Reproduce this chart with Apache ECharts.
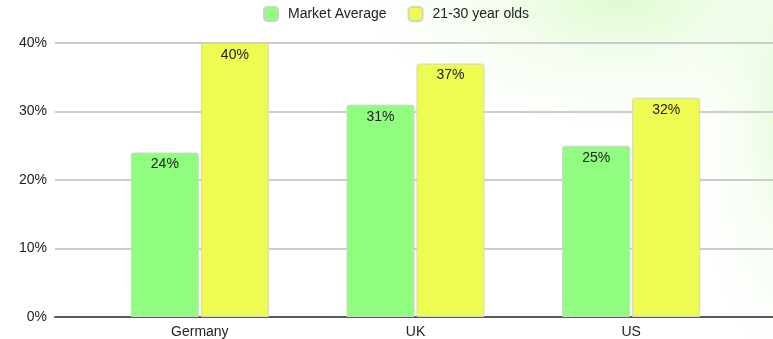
<!DOCTYPE html>
<html>
<head>
<meta charset="utf-8">
<script src="https://cdn.jsdelivr.net/npm/echarts@6/dist/echarts.min.js"></script>
<style>
  html, body { margin: 0; padding: 0; }
  body {
    width: 773px; height: 339px; overflow: hidden;
    background:
      radial-gradient(ellipse 260px 130px at 620px 0px, rgba(214, 250, 196, 0.8) 0%, rgba(230, 252, 218, 0.45) 45%, rgba(255, 255, 255, 0) 100%),
      radial-gradient(ellipse 100px 270px at 790px 110px, rgba(218, 250, 204, 0.75) 0%, rgba(236, 253, 228, 0.4) 50%, rgba(255, 255, 255, 0) 100%),
      #ffffff;
  }
  #chart { width: 773px; height: 339px; }
</style>
</head>
<body>
<div id="chart"></div>
<script>
// Share of people, by country
const countries = ['Germany', 'UK', 'US'];
const marketAverage = [24, 31, 25];
const youngAdults = [40, 37, 32];
const seriesNames = ['Market Average', '21-30 year olds'];
const yTicks = { min: 0, max: 40, interval: 10 };

const FONT = 'Arial, "Liberation Sans", sans-serif';
const plotTop = 43, plotBottom = 22;

const chart = echarts.init(document.getElementById('chart'), null, { renderer: 'canvas' });

const labelStyle = {
  show: true,
  position: 'insideTop',
  distance: 5,
  formatter: p => p.value + '%',
  color: '#222',
  fontSize: 14,
  fontFamily: FONT
};

chart.setOption({
  backgroundColor: 'transparent',
  animation: false,
  legend: {
    data: seriesNames,
    top: 1,
    left: 258,
    itemWidth: 14,
    itemHeight: 14,
    itemGap: 21,
    icon: 'roundRect',
    textStyle: { color: '#222', fontSize: 14, fontFamily: FONT, padding: [0, 0, 0, 5] }
  },
  grid: [
    // full-width grid carrying the value axis, gridlines and baseline
    { left: 55, right: 0, top: plotTop, bottom: plotBottom },
    // grid for the category bands and bars
    { left: 92, right: 34, top: plotTop, bottom: plotBottom }
  ],
  xAxis: [
    {
      gridIndex: 0, type: 'value', min: 0, max: 1,
      axisLabel: { show: false }, axisTick: { show: false }, splitLine: { show: false },
      axisLine: { show: true, onZero: false, lineStyle: { color: '#5a5a5a', width: 2 } }
    },
    {
      gridIndex: 1, type: 'category', data: countries,
      axisLine: { show: false }, axisTick: { show: false },
      axisLabel: { color: '#222', fontSize: 14, fontFamily: FONT, margin: 8 }
    }
  ],
  yAxis: [
    {
      gridIndex: 0, type: 'value',
      min: yTicks.min, max: yTicks.max, interval: yTicks.interval,
      axisLine: { show: false }, axisTick: { show: false },
      axisLabel: { formatter: '{value}%', color: '#222', fontSize: 14, fontFamily: FONT, margin: 8 },
      splitLine: { show: true, lineStyle: { color: '#cccccc', width: 2 } }
    },
    {
      gridIndex: 1, type: 'value',
      min: yTicks.min, max: yTicks.max, interval: yTicks.interval,
      show: false, splitLine: { show: false }
    }
  ],
  series: [
    {
      name: seriesNames[0], type: 'bar', xAxisIndex: 1, yAxisIndex: 1,
      data: marketAverage, barWidth: 68, barGap: '3%',
      itemStyle: { color: '#91fd80', borderColor: '#c8d8c0', borderWidth: 1, borderRadius: [2, 2, 0, 0] },
      label: labelStyle
    },
    {
      name: seriesNames[1], type: 'bar', xAxisIndex: 1, yAxisIndex: 1,
      data: youngAdults, barWidth: 68, barGap: '3%',
      itemStyle: { color: '#edfb52', borderColor: '#d4d8b8', borderWidth: 1, borderRadius: [2, 2, 0, 0] },
      label: labelStyle
    }
  ]
});
</script>
</body>
</html>
